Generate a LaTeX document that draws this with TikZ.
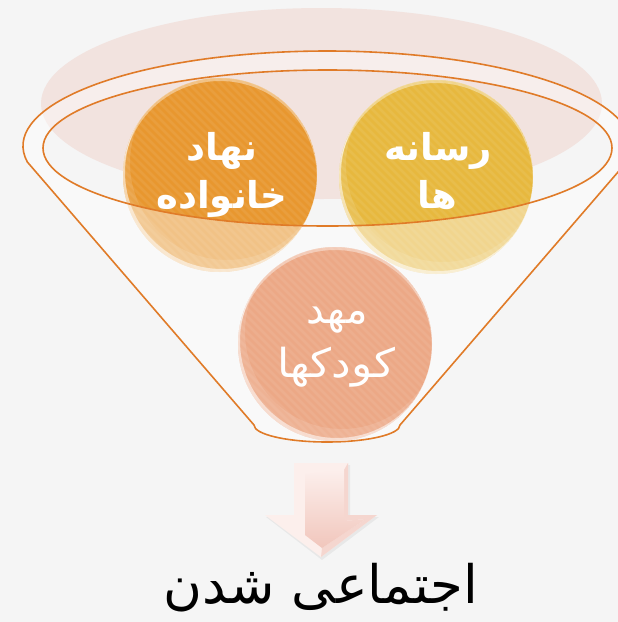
\documentclass[tikz,border=0pt]{standalone}
\usepackage{graphicx}
\usepackage{fontspec}
\newfontfamily\arabicfont[Script=Arabic]{DejaVu Sans}
\TeXXeTstate=1
\usetikzlibrary{calc}
\definecolor{bgc}{HTML}{F5F5F5}
\definecolor{palec}{HTML}{F2E3DF}
\definecolor{famc}{HTML}{E8972F}
\definecolor{medc}{HTML}{E7B83E}
\definecolor{kidc}{HTML}{ECA886}
\definecolor{func}{HTML}{E07B28}
\definecolor{arrlight}{HTML}{FCEFEC}
\definecolor{arrface}{HTML}{F1C6BC}
\definecolor{arrside}{HTML}{F5D6CF}
\tikzset{
  ball/.style={circle, minimum size=194pt, inner sep=0pt},
  rimline/.style={draw=func, line width=1.6pt},
  boldlbl/.style={text=white, anchor=base, font=\arabicfont\bfseries\fontsize{37}{44}\selectfont},
  thinlbl/.style={text=white, anchor=base, font=\arabicfont\fontsize{40}{46}\selectfont},
  biglbl/.style={text=black, anchor=base, font=\arabicfont\fontsize{53}{60}\selectfont},
}
\newcommand\ballfx[1]{%
  \begin{scope}
    \clip (#1.center) circle (97);
    \foreach \s in {-260,-252,...,260}
      \draw[white, opacity=0.07, line width=2.5pt] ($(#1.center)+(\s-120,-120)$) -- ++(240,240);
    \fill[white, opacity=0.40, even odd rule] (#1.center) circle (97) ($(#1.center)+(0,3)$) circle (97);
    \fill[white, opacity=0.55, even odd rule] (#1.center) circle (97) ($(#1.center)+(2,-3)$) circle (97);
    \fill[white, opacity=0.12, even odd rule] (#1.center) circle (97) ($(#1.center)+(7,-12)$) circle (97);
  \end{scope}}
\begin{document}
\begin{tikzpicture}[x=1pt, y=-1pt]
\useasboundingbox (0,0) rectangle (618,622);
\fill[bgc] (0,0) rectangle (618,622);
% pale back ellipse
\fill[palec] (321.5,103.5) ellipse [x radius=280.5, y radius=95.5];
% two upper balls
\node[ball, fill=famc] (fam) at (220,175) {};
\node[ball, fill=medc] (med) at (436,177) {};
\ballfx{fam}
\ballfx{med}
% funnel body (front, translucent) and outline
\def\funnelpath{($(327,146)+(170.3:304 and 95)$) arc[start angle=170.3, end angle=369.7, x radius=304, y radius=95] -- (400,425) arc[start angle=0, end angle=180, x radius=73, y radius=17] -- cycle}
\fill[white, opacity=0.42, even odd rule] \funnelpath (327.5,148) ellipse [x radius=284.5, y radius=78];
\draw[rimline, line join=round] \funnelpath;
\draw[rimline] (327.5,148) ellipse [x radius=284.5, y radius=78];
% lower ball
\node[ball, fill=kidc] (kid) at (335,344) {};
\ballfx{kid}
% labels
\node[boldlbl] (famA) at (222,160) {\beginR نهاد\endR};
\node[boldlbl] (famB) at (222,208) {\beginR خانواده\endR};
\node[boldlbl] (medA) at (438,160) {\beginR رسانه\endR};
\node[boldlbl] (medB) at (437,208) {\beginR ها\endR};
\node[thinlbl] (kidA) at (337,323) {\beginR مهد\endR};
\node[thinlbl] (kidB) at (336,377) {\scalebox{1.1}[1]{\beginR کودکها\endR}};
% arrow
\fill[black, opacity=0.05] (296,465) -- (350,465) -- (350,517) -- (379,517) -- (322,560) -- (266,517) -- (296,517) -- cycle;
\fill[arrlight] (294,463) -- (348,463) -- (348,515) -- (377,515) -- (321,557) -- (265,515) -- (294,515) -- cycle;
\fill[arrside] (348,463) -- (348,515) -- (377,515) -- (321,557) -- (322,548) -- (366,519) -- (344,521) -- (344,470) -- cycle;
\shade[top color=arrlight, bottom color=arrface] (305,474) -- (344,470) -- (344,521) -- (366,519) -- (322,548) -- (305,535) -- cycle;
% result text
\node[biglbl] (res) at (321,603) {\beginR اجتماعی شدن\endR};
\end{tikzpicture}
\end{document}
